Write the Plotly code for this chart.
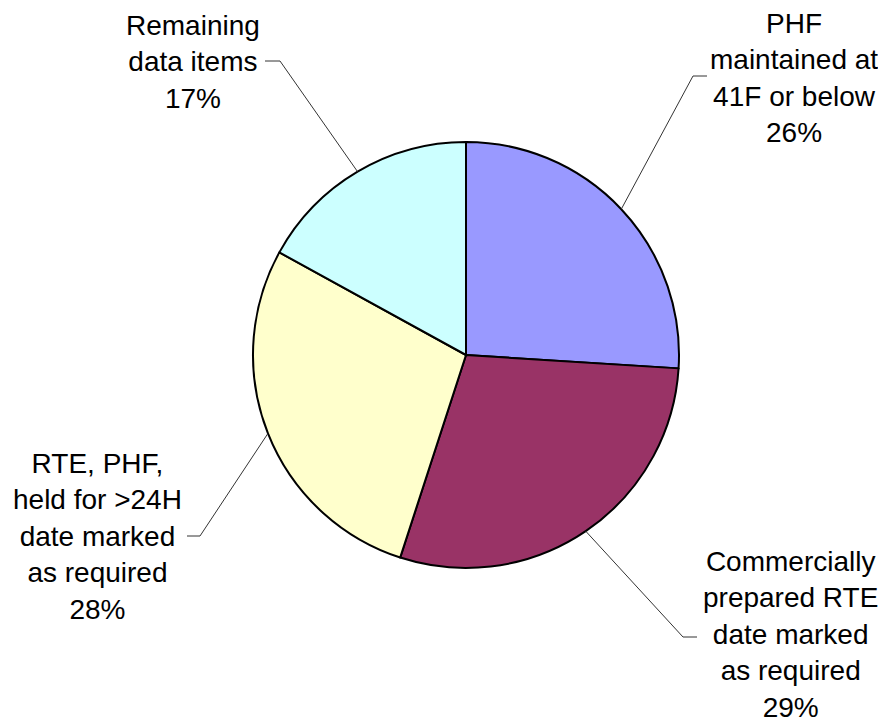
import numpy as np
import plotly.graph_objects as go

# ── data ──────────────────────────────────────────────
categories = [
    "PHF<br>maintained at<br>41F or below",
    "Commercially<br>prepared RTE<br>date marked<br>as required",
    "RTE, PHF,<br>held for >24H<br>date marked<br>as required",
    "Remaining<br>data items",
]
values = [26, 29, 28, 17]
colors = ["#9999FF", "#993366", "#FFFFCC", "#CCFFFF"]

# ── layout constants (pixels, page coordinates) ──────
OFF = 8                      # default body margin of the html page
W, H = 886 - OFF, 721 - OFF
CX, CY, R = 466, 355, 213
FONT_SIZE = 28

# label placement: (label centre x, label centre y, elbow x, elbow y, tail end x)
label_pos = [
    (794, 78, 693, 76, 707),
    (790, 634, 683, 637, 697),
    (97, 536, 200, 536, 187),
    (193, 62, 280, 61, 265),
]


def px(x):
    return (x - OFF) / W


def py(y):
    return 1 - (y - OFF) / H


fig = go.Figure()

fig.add_trace(go.Pie(
    values=values,
    labels=[c.replace("<br>", " ") for c in categories],
    sort=False,
    direction="clockwise",
    rotation=0,
    marker=dict(colors=colors, line=dict(color="#000000", width=2)),
    textinfo="none",
    hoverinfo="label+percent",
    domain=dict(x=[px(CX - R), px(CX + R)], y=[py(CY + R), py(CY - R)]),
    showlegend=False,
))

# leader lines + labels
total = sum(values)
cum = np.cumsum([0] + values) / total
for i, (cat, v) in enumerate(zip(categories, values)):
    mid = (cum[i] + cum[i + 1]) / 2 * 2 * np.pi
    ex = CX + R * np.sin(mid)
    ey = CY - R * np.cos(mid)
    lx, ly, bx, by, tx = label_pos[i]
    fig.add_shape(
        type="path",
        xref="paper", yref="paper",
        path=f"M {px(ex)},{py(ey)} L {px(bx)},{py(by)} L {px(tx)},{py(by)}",
        line=dict(color="#333333", width=1),
    )
    pct = round(v / total * 100)
    fig.add_annotation(
        x=px(lx), y=py(ly),
        xref="paper", yref="paper",
        text=f"{cat}<br>{pct}%",
        showarrow=False,
        xanchor="center", yanchor="middle",
        align="center",
        font=dict(size=FONT_SIZE, color="#000000", family="Liberation Sans, Arial, sans-serif"),
    )

fig.update_layout(
    width=W, height=H,
    margin=dict(l=0, r=0, t=0, b=0),
    paper_bgcolor="#FFFFFF",
    plot_bgcolor="#FFFFFF",
    font=dict(family="Liberation Sans, Arial, sans-serif"),
)

fig.write_html("out.html")
